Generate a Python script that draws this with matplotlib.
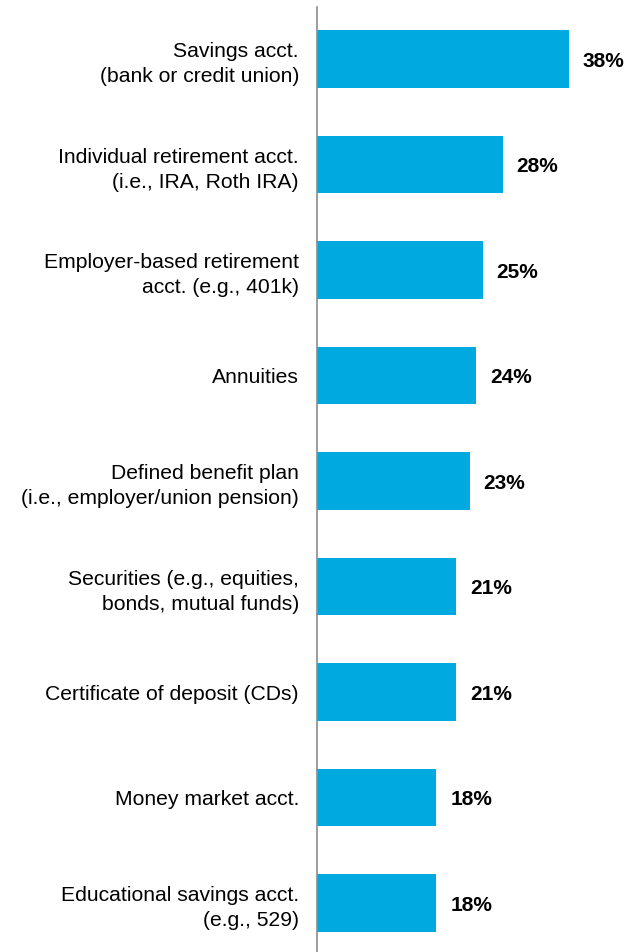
import matplotlib
matplotlib.use("Agg")
import matplotlib.pyplot as plt

categories = [
    "Savings acct.\n(bank or credit union)",
    "Individual retirement acct.\n(i.e., IRA, Roth IRA)",
    "Employer-based retirement\nacct. (e.g., 401k)",
    "Annuities",
    "Defined benefit plan\n(i.e., employer/union pension)",
    "Securities (e.g., equities,\nbonds, mutual funds)",
    "Certificate of deposit (CDs)",
    "Money market acct.",
    "Educational savings acct.\n(e.g., 529)",
]
values = [38, 28, 25, 24, 23, 21, 21, 18, 18]

plt.rcParams["font.family"] = ["Liberation Sans", "DejaVu Sans"]

W, H, DPI = 626, 952, 100
fig = plt.figure(figsize=(W / DPI, H / DPI), dpi=DPI)

x0, y_top, y_bot = 317, 7, 952
ax = fig.add_axes([x0 / W, 0, 1 - x0 / W, (H - y_top) / H])

pos = list(range(len(categories)))
ax.barh(pos, values, height=0.545, color="#00A9E0", edgecolor="none")

first_c, step = 59, 105.5
ax.set_ylim((y_bot - first_c) / step, -(first_c - y_top) / step)
px_per_unit = (569 - x0) / 38
ax.set_xlim(0, (W - x0) / px_per_unit)

for p, v in zip(pos, values):
    ax.annotate(f"{v}%", xy=(v, p), xytext=(10, -1.5), textcoords="offset points",
                ha="left", va="center", fontsize=15, fontweight="bold", color="black")

ax.set_yticks(pos)
ax.set_yticklabels(categories, fontsize=15.2, linespacing=1.4)
ax.tick_params(axis="y", length=0, pad=13)
ax.set_xticks([])
for s in ["top", "right", "bottom"]:
    ax.spines[s].set_visible(False)
ax.spines["left"].set_color("#8C8C8C")
ax.spines["left"].set_linewidth(1.2)

fig.savefig("out.png", dpi=DPI)
